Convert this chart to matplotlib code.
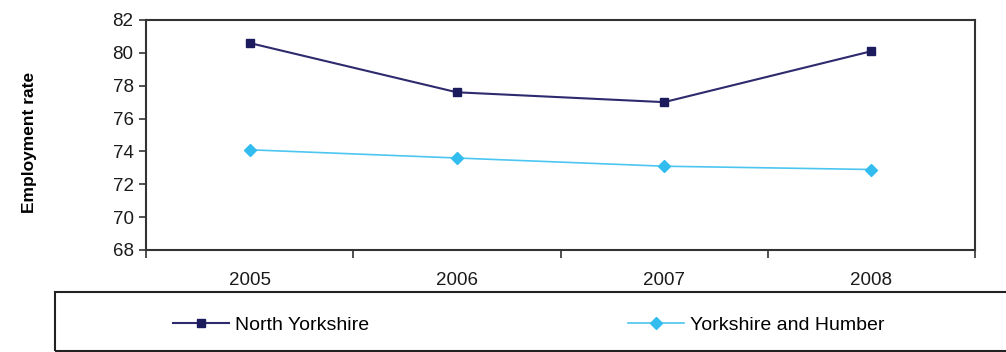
import matplotlib
matplotlib.use("Agg")
import matplotlib.pyplot as plt
from matplotlib.ticker import FixedLocator
from matplotlib.patches import Rectangle

years = ["2005", "2006", "2007", "2008"]
north_yorkshire = [80.6, 77.6, 77.0, 80.1]
yorkshire_humber = [74.1, 73.6, 73.1, 72.9]

plt.rcParams['font.family'] = ['Liberation Sans', 'DejaVu Sans']

W, H = 1006, 352
fig = plt.figure(figsize=(W / 100, H / 100), dpi=100)
ax = fig.add_axes([146 / W, 1 - 250 / H, (975 - 146) / W, (250 - 20) / H])

x = list(range(len(years)))
l1, = ax.plot(x, north_yorkshire, color="#2e2a6e", lw=1.5, marker="s", ms=6,
              mfc="#1b1b5e", mec="#1b1b5e", label="North Yorkshire")
l2, = ax.plot(x, yorkshire_humber, color="#4cc6f0", lw=1.2, marker="D", ms=6.5,
              mfc="#33bdee", mec="#33bdee", label="Yorkshire and Humber")

ax.set_xlim(-0.5, len(years) - 0.5)
ax.set_ylim(68, 82)
ax.set_yticks(range(68, 83, 2))
ax.set_xticks(x)
ax.set_xticklabels(years)
ax.xaxis.set_minor_locator(FixedLocator([i + 0.5 for i in range(-1, len(years))]))
ax.tick_params(axis="x", which="major", length=0, labelsize=13.5, pad=16)
ax.tick_params(axis="x", which="minor", length=6, width=1.2, direction="out", color="#333333")
ax.tick_params(axis="y", length=5, width=1.2, labelsize=13.5, direction="out", color="#333333", pad=4)
for lab in ax.get_xticklabels() + ax.get_yticklabels():
    lab.set_color("#1a1a1a")
for s in ax.spines.values():
    s.set_color("#333333")
    s.set_linewidth(1.5)

fig.text(30 / W, 1 - 142 / H, "Employment rate", rotation=90, ha="center", va="center",
         fontsize=12.5, fontweight="bold")

# legend box
fig.patches.append(Rectangle((55 / W, 1 / H), (1010 - 55) / W, (292 - 1) / H * 0 + 59 / H,
                             transform=fig.transFigure, fill=False,
                             edgecolor="#222222", linewidth=1.5))

common = dict(frameon=False, fontsize=14, handlelength=2.9, handletextpad=0.3,
              borderaxespad=0, borderpad=0, loc="center left")
leg1 = fig.legend(handles=[l1], bbox_to_anchor=(173 / W, 1 - 325 / H), **common)
leg2 = fig.legend(handles=[l2], bbox_to_anchor=(628 / W, 1 - 325 / H), **common)

fig.savefig("out.png", dpi=100)
